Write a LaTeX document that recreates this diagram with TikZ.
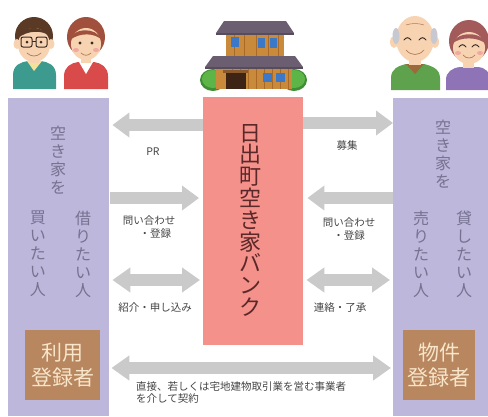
\documentclass[tikz,border=0pt]{standalone}
\usepackage{fontspec}
\setmainfont{Noto Sans CJK JP}
\usetikzlibrary{arrows.meta}
\definecolor{purp}{HTML}{BDB7DC}
\definecolor{bankred}{HTML}{F4918B}
\definecolor{regbrown}{HTML}{B8865F}
\definecolor{cream}{HTML}{F7E6CA}
\definecolor{arrowgray}{HTML}{CACACA}
\definecolor{coltext}{HTML}{767290}
\definecolor{banktext}{HTML}{5A2828}
\definecolor{labtext}{HTML}{444444}
\definecolor{skin}{HTML}{F7D3B2}
\definecolor{skinline}{HTML}{B07A55}
\definecolor{bushdark}{HTML}{3F8E35}
\definecolor{bush}{HTML}{5DB548}
\definecolor{wall}{HTML}{C98A3C}
\definecolor{wallline}{HTML}{A96A28}
\definecolor{roof}{HTML}{6A5E70}
\definecolor{roofedge}{HTML}{574C5C}
\definecolor{window}{HTML}{3B78C8}
\definecolor{lintel}{HTML}{8A5A2A}
\definecolor{door}{HTML}{3E2414}
\definecolor{teal}{HTML}{3C9A8E}
\definecolor{collar}{HTML}{F3E39A}
\definecolor{hairbrown}{HTML}{5A3A24}
\definecolor{eye}{HTML}{3A2A20}
\definecolor{redtop}{HTML}{D94B4A}
\definecolor{hairred}{HTML}{A0503C}
\definecolor{cheek}{HTML}{F2A8A0}
\definecolor{greentop}{HTML}{5EA24E}
\definecolor{browncollar}{HTML}{9A6A3A}
\definecolor{grayhair}{HTML}{C8C8D0}
\definecolor{purpletop}{HTML}{8E74B6}
\definecolor{hairrose}{HTML}{A35A5A}
\begin{document}
\begin{tikzpicture}[x=1pt,y=-1pt,
  panel/.style={rectangle, inner sep=0pt, anchor=north west, draw=none},
  vcol/.style={align=center, inner sep=0pt, text=coltext, font=\fontsize{16}{18}\selectfont},
  lab/.style={align=center, inner sep=0pt, text=labtext, font=\fontsize{10.5}{12.5}\selectfont},
  garrow/.style={draw=arrowgray, line width=12pt, -{Triangle[width=24pt,length=17pt]}},
  gdouble/.style={draw=arrowgray, line width=12pt, {Triangle[width=24pt,length=18pt]}-{Triangle[width=24pt,length=18pt]}},
  ink/.style={draw=skinline, line width=0.7pt, line cap=round},
  eyeline/.style={draw=eye, line width=1pt, line cap=round}]
\useasboundingbox (0,0) rectangle (488,416);
\clip (0,0) rectangle (488,416);

% ---- main panels ----
\node[panel, fill=purp, minimum width=101pt, minimum height=318pt] (buyer) at (8,98) {};
\node[panel, fill=purp, minimum width=95pt, minimum height=318pt] (seller) at (393,98) {};
\node[panel, fill=bankred, minimum width=100pt, minimum height=248pt] (bank) at (203,97) {};
\node[panel, fill=regbrown, minimum width=75pt, minimum height=70pt] (user) at (25,330) {};
\node[panel, fill=regbrown, minimum width=72pt, minimum height=70pt] (owner) at (403,330) {};

% ---- vertical texts ----
\node[vcol, anchor=north] (bq) at (58,126) {空\\き\\家\\を};
\node[vcol, anchor=north] (bkari) at (83,211) {借\\り\\た\\い\\人};
\node[vcol, anchor=north] (bkai) at (38,211) {買\\い\\た\\い\\人};
\node[vcol, anchor=north] (sq) at (443,120) {空\\き\\家\\を};
\node[vcol, anchor=north] (skasi) at (464,211) {貸\\し\\た\\い\\人};
\node[vcol, anchor=north] (suri) at (421,211) {売\\り\\た\\い\\人};
\node[align=center, inner sep=0pt, text=banktext, font=\fontsize{22}{21.8}\selectfont, anchor=north] (banktitle) at (250,124)
  {日\\出\\町\\空\\き\\家\\バ\\ン\\ク};

\node[align=center, inner sep=0pt, text=cream, font=\fontsize{21}{25}\selectfont] (usertxt) at (user.center) {利用\\登録者};
\node[align=center, inner sep=0pt, text=cream, font=\fontsize{21}{25}\selectfont] (ownertxt) at (owner.center) {物件\\登録者};

% ---- arrow rows ----
\coordinate (r1) at (0,125);
\coordinate (r1r) at (0,123);
\coordinate (r2) at (0,198);
\coordinate (r3) at (0,280);
\coordinate (r4) at (0,368);

\draw[garrow, shorten >=3pt] (bank.west |- r1) -- (buyer.east |- r1);
\draw[garrow, shorten <=1pt, shorten >=4pt] (buyer.east |- r2) -- (bank.west |- r2);
\draw[gdouble, shorten <=3pt, shorten >=3pt] (buyer.east |- r3) -- (bank.west |- r3);
\draw[garrow] (bank.east |- r1r) -- (seller.west |- r1r);
\draw[garrow, shorten >=4pt] (seller.west |- r2) -- (bank.east |- r2);
\draw[gdouble, shorten <=3pt, shorten >=3pt] (bank.east |- r3) -- (seller.west |- r3);
\draw[gdouble, shorten <=2pt, shorten >=2pt] (buyer.east |- r4) -- (seller.west |- r4);

% ---- arrow labels ----
\node[lab] (lpr) at (153,152) {PR};
\node[lab] (lq1) at (149,227) {問い合わせ\\\hspace*{1.2em}・登録};
\node[lab] (lint) at (155,308) {紹介・申し込み};
\node[lab] (lbosyu) at (347,146) {募集};
\node[lab] (lq2) at (349,229) {問い合わせ\\・登録};
\node[lab] (lren) at (340,308) {連絡・了承};
\node[lab, align=left, anchor=north west] (lcontract) at (136,381) {直接、若しくは宅地建物取引業を営む事業者\\を介して契約};

% ---- house ----
\fill[bushdark] (213,80) ellipse (13 and 11);
\fill[bushdark] (294,80) ellipse (13 and 11);
\fill[bush] (213,79) ellipse (11 and 9);
\fill[bush] (294,79) ellipse (11 and 9);
\fill[wall] (216,64) rectangle (292,89);
\fill[wall] (226,31) rectangle (284,58);
\foreach \xx in {232,240,248,256,264,272,280,288} {\draw[wallline, line width=0.5pt] (\xx,66) -- (\xx,89);}
\foreach \xx in {234,244,256,268,278} {\draw[wallline, line width=0.5pt] (\xx,34) -- (\xx,57);}
\fill[roof] (205,67) -- (213,56) -- (295,56) -- (303,67) -- cycle;
\fill[roofedge] (205,67) rectangle (303,69);
\fill[roof] (216,33) -- (224,21) -- (286,21) -- (294,33) -- cycle;
\fill[roofedge] (216,33) rectangle (294,35);
\fill[window] (231,37) rectangle (239,47);
\fill[window] (258,38) rectangle (265,48);
\fill[window] (270,38) rectangle (277,48);
\fill[window] (263,73) rectangle (272,82);
\fill[window] (276,73) rectangle (285,82);
\fill[lintel] (223,70) rectangle (248,73);
\fill[door] (226,73) rectangle (246,89);

% ---- left couple: man ----
\fill[teal] (13,89) -- (13,75) .. controls (13,65) and (21,62) .. (28,61) -- (41,61) .. controls (48,62) and (56,65) .. (56,75) -- (56,89) -- cycle;
\fill[collar] (27,61) -- (34,71) -- (42,61) -- cycle;
\fill[skin] (30,55) rectangle (39,63);
\fill[hairbrown] (34,36) ellipse (19 and 19);
\fill[skin] (17,44) ellipse (3.5 and 5);
\fill[skin] (51,44) ellipse (3.5 and 5);
\fill[skin] (34,45) ellipse (16 and 17);
\fill[hairbrown] (18,38) .. controls (22,26) and (40,24) .. (50,36) .. controls (42,30) and (28,30) .. (18,38) -- cycle;
\draw[eye, line width=1pt, rounded corners=2pt] (21,37) rectangle (32,47);
\draw[eye, line width=1pt, rounded corners=2pt] (36,37) rectangle (47,47);
\draw[eye, line width=0.8pt] (32,41) -- (36,41);
\fill[eye] (27,42) circle (1.5);
\fill[eye] (41,42) circle (1.5);
\draw[ink] (27,53) .. controls (31,57) and (37,57) .. (41,53);

% ---- left couple: woman ----
\fill[redtop] (64,89) -- (64,76) .. controls (64,67) and (71,63) .. (78,62) -- (94,62) .. controls (101,63) and (108,67) .. (108,76) -- (108,89) -- cycle;
\fill[white] (79,62) -- (86,74) -- (93,62) -- cycle;
\fill[skin] (81,55) rectangle (91,63);
\fill[hairred] (86,37) ellipse (19 and 20);
\fill[skin] (86,44) ellipse (15 and 16);
\fill[hairred] (70,40) .. controls (72,28) and (96,26) .. (102,40) .. controls (95,33) and (80,32) .. (70,40) -- cycle;
\fill[eye] (80,43) circle (1.6);
\fill[eye] (92,43) circle (1.6);
\fill[cheek] (76,50) ellipse (3 and 2);
\fill[cheek] (96,50) ellipse (3 and 2);
\draw[ink] (81,53) .. controls (84,56) and (88,56) .. (91,53);

% ---- right couple: old man ----
\fill[greentop] (391,90) -- (391,78) .. controls (391,69) and (398,66) .. (406,64) -- (424,64) .. controls (432,66) and (440,69) .. (440,78) -- (440,90) -- cycle;
\fill[browncollar] (406,64) -- (415,74) -- (424,64) -- cycle;
\fill[skin] (409,58) rectangle (421,65);
\fill[skin] (394,42) ellipse (4 and 6);
\fill[skin] (435,42) ellipse (4 and 6);
\fill[skin] (415,39) ellipse (19 and 23);
\fill[grayhair] (396,36) ellipse (3.5 and 8);
\fill[grayhair] (434,36) ellipse (3.5 and 8);
\draw[eyeline] (404,40) .. controls (406,37) and (409,37) .. (411,40);
\draw[eyeline] (419,40) .. controls (421,37) and (424,37) .. (426,40);
\draw[ink] (406,50) .. controls (411,56) and (419,56) .. (424,50);
\draw[ink, line width=0.5pt] (406,25) .. controls (412,23) and (418,23) .. (424,25);

% ---- right couple: old woman ----
\fill[purpletop] (446,90) -- (446,80) .. controls (446,72) and (452,68) .. (460,67) -- (478,67) .. controls (486,68) and (490,72) .. (490,80) -- (490,90) -- cycle;
\fill[skin] (463,60) rectangle (474,68);
\fill[hairrose] (469,41) ellipse (20 and 21);
\fill[skin] (469,48) ellipse (16 and 16);
\fill[hairrose] (452,44) .. controls (455,32) and (482,30) .. (486,44) .. controls (479,37) and (460,36) .. (452,44) -- cycle;
\draw[eyeline] (459,47) .. controls (461,44) and (464,44) .. (466,47);
\draw[eyeline] (472,47) .. controls (474,44) and (477,44) .. (479,47);
\fill[cheek] (458,53) ellipse (3 and 2);
\fill[cheek] (480,53) ellipse (3 and 2);
\draw[ink] (463,55) .. controls (466,59) and (472,59) .. (475,55);
\end{tikzpicture}
\end{document}
